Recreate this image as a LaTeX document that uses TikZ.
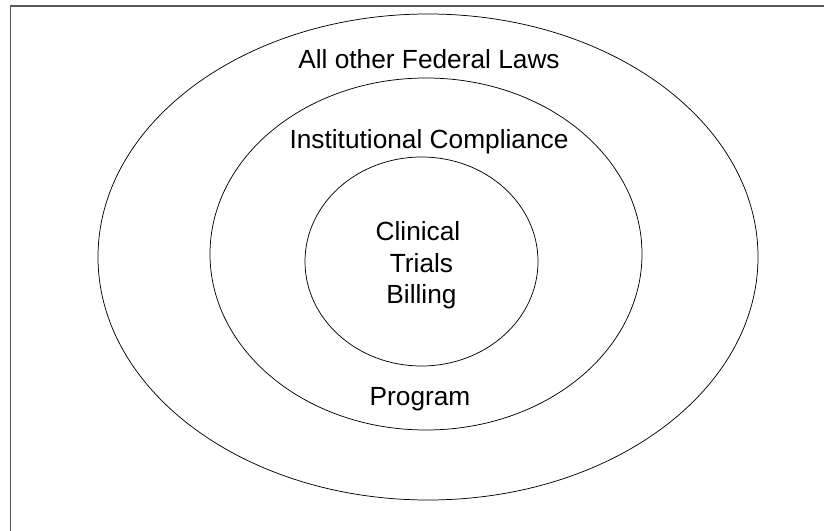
\documentclass[tikz,border=0pt]{standalone}
\usepackage{fontspec}
\setmainfont{Liberation Sans}
\usetikzlibrary{shapes.geometric}
\begin{document}
\begin{tikzpicture}[x=0.75pt,y=-0.75pt,
  ring/.style={draw=black,ellipse,line width=0.55pt,inner sep=0pt},
  lbl/.style={anchor=base,inner sep=0pt,font=\fontsize{19.7pt}{23.6pt}\selectfont}]
\useasboundingbox (0,0) rectangle (824,531);
\fill[white] (0,0) rectangle (824,531);
% frame (only top and left edges visible)
\coordinate (fbl) at (10.5,531);
\coordinate (ftl) at (10.5,6);
\coordinate (ftr) at (824,6);
\draw[gray!70!black,line width=1pt] (fbl) -- (ftl) -- (ftr);
% rings
\node[ring,minimum width=495pt,minimum height=364.5pt] (outer) at (428,257) {};
\node[ring,minimum width=324pt,minimum height=264pt] (middle) at (426,254) {};
\node[ring,minimum width=174.75pt,minimum height=156.75pt] (inner) at (421.5,261.5) {};
% labels
\node[lbl] (fed) at (429,68.5) {All other Federal Laws};
\node[lbl] (inst) at (429,148.5) {Institutional Compliance};
\node[lbl] (clin1) at (418,240) {Clinical};
\node[lbl] (clin2) at (421.5,272) {Trials};
\node[lbl] (clin3) at (421.5,303.5) {Billing};
\node[lbl] (prog) at (420,405) {Program};
\end{tikzpicture}
\end{document}
